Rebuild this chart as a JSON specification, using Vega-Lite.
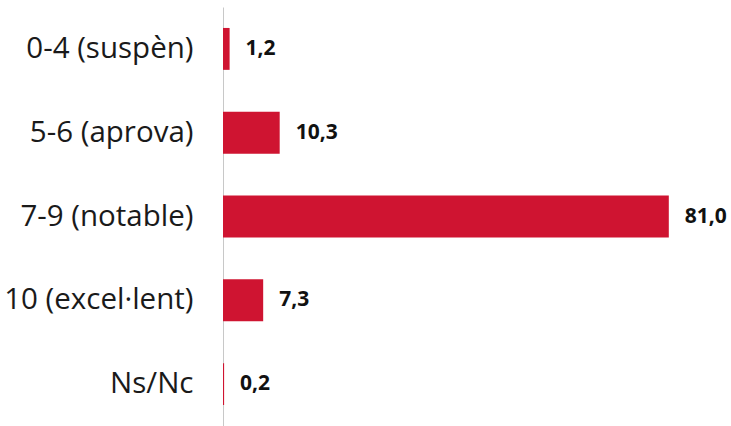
{
  "$schema": "https://vega.github.io/schema/vega-lite/v6.json",
  "width": 508,
  "height": 419,
  "autosize": "none",
  "padding": {"left": 223, "top": 7, "right": 0, "bottom": 0},
  "background": "white",
  "config": {
    "view": {"stroke": null},
    "locale": {"number": {"decimal": ",", "thousands": ".", "grouping": [3], "currency": ["", " €"]}}
  },
  "data": {
    "values": [
      {"cat": "0-4 (suspèn)", "v": 1.2},
      {"cat": "5-6 (aprova)", "v": 10.3},
      {"cat": "7-9 (notable)", "v": 81.0},
      {"cat": "10 (excel·lent)", "v": 7.3},
      {"cat": "Ns/Nc", "v": 0.2}
    ]
  },
  "encoding": {
    "y": {
      "field": "cat",
      "type": "nominal",
      "sort": null,
      "scale": {"paddingInner": 0.5, "paddingOuter": 0.25},
      "axis": {
        "title": null,
        "ticks": false,
        "labelPadding": 30,
        "labelFontSize": 29.5,
        "labelFont": "Open Sans",
        "labelColor": "#1a1a1a",
        "labelLimit": 0,
        "domainColor": "#c8c8c8",
        "domainWidth": 1
      }
    },
    "x": {
      "field": "v",
      "type": "quantitative",
      "scale": {"domain": [0, 92.3], "nice": false},
      "axis": null
    }
  },
  "layer": [
    {"mark": {"type": "bar", "color": "#cf1431"}},
    {
      "mark": {"type": "text", "align": "left", "dx": 16, "fontWeight": "bold", "fontSize": 21, "font": "Open Sans", "color": "#111111"},
      "encoding": {"text": {"field": "v", "type": "quantitative", "format": ".1f"}}
    }
  ]
}
